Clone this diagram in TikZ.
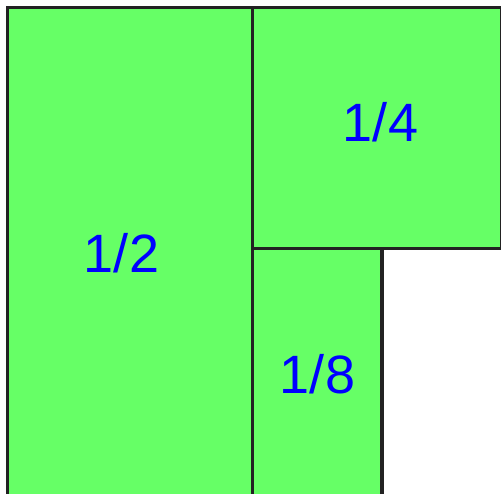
\documentclass[tikz,border=0pt]{standalone}
\usepackage{fontspec}
\setmainfont{Liberation Sans}
\definecolor{piecegreen}{HTML}{66FF66}
\definecolor{edgegray}{HTML}{222222}
\begin{document}
\begin{tikzpicture}[x=1pt,y=-1pt,
  piece/.style={draw=edgegray,fill=piecegreen,line width=3.5pt},
  frac/.style={text=blue,anchor=base,inner sep=0pt,font=\fontsize{54}{62}\selectfont}]
  \useasboundingbox (0,0) rectangle (501,493);
  \clip (0,0) rectangle (501,493);
  \draw[piece] (7.5,7.5) rectangle (252.5,500);
  \draw[piece] (252.5,7.5) rectangle (502,248.5);
  \draw[piece] (252.5,248.5) rectangle (382,500);
  \node[frac] (half) at (121.5,272) {1/2};
  \node[frac] (quarter) at (380.5,141) {1/4};
  \node[frac] (eighth) at (317.5,393) {1/8};
\end{tikzpicture}
\end{document}
